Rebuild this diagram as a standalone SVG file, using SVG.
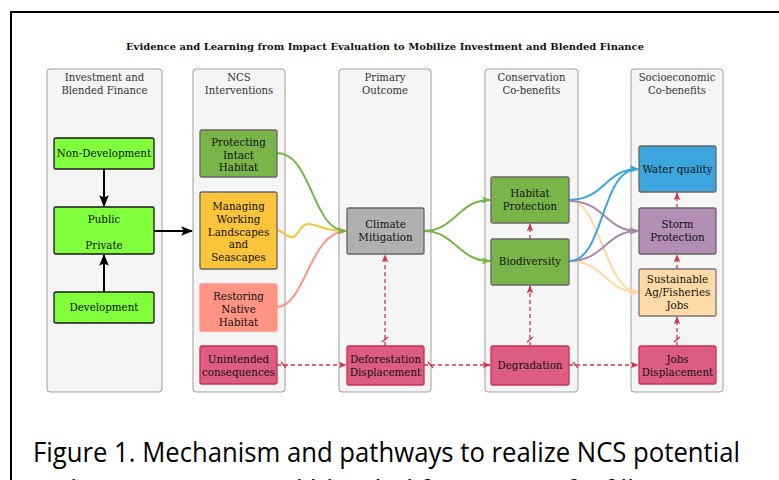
<svg xmlns="http://www.w3.org/2000/svg" width="779" height="480" viewBox="0 0 779 480">
<style>
.lane{fill:#f5f5f5;stroke:#a0a0a0;stroke-width:1}
.hd{font-family:"DejaVu Serif","Liberation Serif",serif;font-size:10.1px;fill:#333;text-anchor:middle}
.t{font-family:"DejaVu Serif","Liberation Serif",serif;font-size:10.3px;fill:#111;text-anchor:middle}
.n{stroke-width:1.3}
.blk{fill:none;stroke:#000;stroke-width:2}
.c{fill:none;stroke-width:2}
.red{fill:none;stroke:#d3334c;stroke-width:1.3;stroke-dasharray:4 3}
</style>
<defs>
<marker id="ab" markerUnits="userSpaceOnUse" markerWidth="12" markerHeight="12" viewBox="0 0 10 8" refX="9" refY="4" orient="auto"><path d="M0,0 L10,4 L0,8 L2,4 z" fill="#000"/></marker>
<marker id="ag" markerUnits="userSpaceOnUse" markerWidth="9" markerHeight="8" viewBox="0 0 10 8" refX="9" refY="4" orient="auto"><path d="M0,0 L10,4 L0,8 L2,4 z" fill="#79b548"/></marker>
<marker id="ay" markerUnits="userSpaceOnUse" markerWidth="9" markerHeight="8" viewBox="0 0 10 8" refX="9" refY="4" orient="auto"><path d="M0,0 L10,4 L0,8 L2,4 z" fill="#fbc43a"/></marker>
<marker id="as" markerUnits="userSpaceOnUse" markerWidth="9" markerHeight="8" viewBox="0 0 10 8" refX="9" refY="4" orient="auto"><path d="M0,0 L10,4 L0,8 L2,4 z" fill="#ff9485"/></marker>
<marker id="abl" markerUnits="userSpaceOnUse" markerWidth="9" markerHeight="8" viewBox="0 0 10 8" refX="9" refY="4" orient="auto"><path d="M0,0 L10,4 L0,8 L2,4 z" fill="#3ba6de"/></marker>
<marker id="ap" markerUnits="userSpaceOnUse" markerWidth="9" markerHeight="8" viewBox="0 0 10 8" refX="9" refY="4" orient="auto"><path d="M0,0 L10,4 L0,8 L2,4 z" fill="#a98aad"/></marker>
<marker id="ao" markerUnits="userSpaceOnUse" markerWidth="9" markerHeight="8" viewBox="0 0 10 8" refX="9" refY="4" orient="auto"><path d="M0,0 L10,4 L0,8 L2,4 z" fill="#ffd8a0"/></marker>
<marker id="ar" markerUnits="userSpaceOnUse" markerWidth="8" markerHeight="7" viewBox="0 0 10 8" refX="9" refY="4" orient="auto"><path d="M0,0 L10,4 L0,8 L2,4 z" fill="#d3334c"/></marker>
<marker id="sl" markerUnits="userSpaceOnUse" markerWidth="20" markerHeight="20" refX="0" refY="0" orient="auto" overflow="visible"><path d="M4,-3 L9,3" stroke="#d3334c" stroke-width="1.3" fill="none"/></marker>
</defs>
<rect x="0" y="0" width="779" height="480" fill="#fff"/>
<rect x="11" y="12" width="800" height="500" fill="#fff" stroke="#000" stroke-width="2"/>
<text x="385" y="50" font-family="'DejaVu Serif','Liberation Serif',serif" font-size="9.5" font-weight="bold" text-anchor="middle" fill="#111" textLength="518" lengthAdjust="spacingAndGlyphs">Evidence and Learning from Impact Evaluation to Mobilize Investment and Blended Finance</text>

<g id="lanes">
<rect class="lane" x="47" y="69" width="115" height="323" rx="3"/>
<rect class="lane" x="193" y="69" width="92" height="323" rx="3"/>
<rect class="lane" x="339" y="69" width="92" height="323" rx="3"/>
<rect class="lane" x="485" y="69" width="93" height="323" rx="3"/>
<rect class="lane" x="631" y="69" width="92" height="323" rx="3"/>
<text class="hd" x="104.5" y="81">Investment and</text><text class="hd" x="104.5" y="94">Blended Finance</text>
<text class="hd" x="239" y="81">NCS</text><text class="hd" x="239" y="94">Interventions</text>
<text class="hd" x="385" y="81">Primary</text><text class="hd" x="385" y="94">Outcome</text>
<text class="hd" x="531.5" y="81">Conservation</text><text class="hd" x="531.5" y="94">Co-benefits</text>
<text class="hd" x="677" y="81">Socioeconomic</text><text class="hd" x="677" y="94">Co-benefits</text>
</g>

<g id="connectors">
<path class="blk" d="M104,169 L104,206" marker-end="url(#ab)"/>
<path class="blk" d="M104,292 L104,255" marker-end="url(#ab)"/>
<path class="blk" d="M154,231 L192,231" marker-end="url(#ab)"/>
<path class="c" stroke="#fbc43a" d="M277,230 C284,231 287,239 293,237 C299,235 301,223 309,224 C318,225 326,231 346,231" marker-end="url(#ay)"/>
<path class="c" stroke="#ff9485" d="M277,307 C305,307 310,231 346,231" marker-end="url(#as)"/>
<path class="c" stroke="#79b548" d="M277,153 C312,153 312,231 346,231" marker-end="url(#ag)"/>
<path class="c" stroke="#79b548" d="M424,231 C455,231 458,200 490,200" marker-end="url(#ag)"/>
<path class="c" stroke="#79b548" d="M424,231 C455,231 458,261 490,261" marker-end="url(#ag)"/>
<path class="c" stroke="#ffd8a0" d="M569,200 C600,200 605,292 638,292" marker-end="url(#ao)"/>
<path class="c" stroke="#ffd8a0" d="M569,261 C605,261 605,292 638,292" marker-end="url(#ao)"/>
<path class="c" stroke="#a98aad" d="M569,201 C605,201 605,231 638,231" marker-end="url(#ap)"/>
<path class="c" stroke="#a98aad" d="M569,261 C605,261 605,231 638,231" marker-end="url(#ap)"/>
<path class="c" stroke="#3ba6de" d="M569,200 C605,200 605,169 638,169" marker-end="url(#abl)"/>
<path class="c" stroke="#3ba6de" d="M569,261 C605,261 600,169 638,169" marker-end="url(#abl)"/>
<path class="red" d="M277,365 L346,365" marker-start="url(#sl)" marker-end="url(#ar)"/>
<path class="red" d="M424,365 L490,365" marker-start="url(#sl)" marker-end="url(#ar)"/>
<path class="red" d="M569,365 L638,365" marker-start="url(#sl)" marker-end="url(#ar)"/>
<path class="red" d="M385,346 L385,255" marker-start="url(#sl)" marker-end="url(#ar)"/>
<path class="red" d="M530,346 L530,286" marker-start="url(#sl)" marker-end="url(#ar)"/>
<path class="red" d="M530,239 L530,224" marker-end="url(#ar)"/>
<path class="red" d="M677,346 L677,317" marker-start="url(#sl)" marker-end="url(#ar)"/>
<path class="red" d="M677,269 L677,255" marker-end="url(#ar)"/>
<path class="red" d="M677,208 L677,193" marker-end="url(#ar)"/>
</g>

<g id="non-development"><rect class="n" x="54" y="138" width="100" height="31" rx="2" fill="#80ff3a" stroke="#1a1a1a"/><text class="t" x="104" y="157">Non-Development</text></g>
<g id="public-private"><rect class="n" x="54" y="207" width="100" height="47" rx="2" fill="#80ff3a" stroke="#1a1a1a"/><text class="t" x="104" y="222.5">Public</text><text class="t" x="104" y="248.5">Private</text></g>
<g id="development"><rect class="n" x="54" y="292" width="100" height="31" rx="2" fill="#80ff3a" stroke="#1a1a1a"/><text class="t" x="104" y="311">Development</text></g>

<g id="protecting"><rect class="n" x="200" y="130" width="77" height="47" rx="2" fill="#79b548" stroke="#666"/><text class="t" x="238.5" y="145.5">Protecting</text><text class="t" x="238.5" y="158.5">Intact</text><text class="t" x="238.5" y="171">Habitat</text></g>
<g id="managing"><rect class="n" x="200" y="192" width="77" height="77" rx="2" fill="#fbc43a" stroke="#666"/><text class="t" x="238.5" y="209.5">Managing</text><text class="t" x="238.5" y="222.5">Working</text><text class="t" x="238.5" y="235.5">Landscapes</text><text class="t" x="238.5" y="248">and</text><text class="t" x="238.5" y="261">Seascapes</text></g>
<g id="restoring"><rect class="n" x="200" y="284" width="77" height="47" rx="2" fill="#ff9485" stroke="#ff9485"/><text class="t" x="238.5" y="300">Restoring</text><text class="t" x="238.5" y="313">Native</text><text class="t" x="238.5" y="325.5">Habitat</text></g>
<g id="unintended"><rect class="n" x="200" y="346" width="77" height="38" rx="2" fill="#dd5c82" stroke="#c8324f"/><text class="t" x="238.5" y="362.5">Unintended</text><text class="t" x="238.5" y="375.5">consequences</text></g>

<g id="climate"><rect class="n" x="347" y="208" width="77" height="46" rx="2" fill="#b0b0b0" stroke="#666"/><text class="t" x="385.5" y="227.5">Climate</text><text class="t" x="385.5" y="241">Mitigation</text></g>
<g id="deforestation"><rect class="n" x="347" y="346" width="77" height="39" rx="2" fill="#dd5c82" stroke="#c8324f"/><text class="t" x="385.5" y="363">Deforestation</text><text class="t" x="385.5" y="376">Displacement</text></g>

<g id="habitat-protection"><rect class="n" x="491" y="177" width="78" height="46" rx="2" fill="#79b548" stroke="#666"/><text class="t" x="530" y="197">Habitat</text><text class="t" x="530" y="210">Protection</text></g>
<g id="biodiversity"><rect class="n" x="491" y="239" width="78" height="46" rx="2" fill="#79b548" stroke="#666"/><text class="t" x="530" y="265">Biodiversity</text></g>
<g id="degradation"><rect class="n" x="491" y="346" width="78" height="39" rx="2" fill="#dd5c82" stroke="#c8324f"/><text class="t" x="530" y="369">Degradation</text></g>

<g id="water-quality"><rect class="n" x="639" y="146" width="77" height="46" rx="2" fill="#3ba6de" stroke="#666"/><text class="t" x="677.5" y="173">Water quality</text></g>
<g id="storm-protection"><rect class="n" x="639" y="208" width="77" height="46" rx="2" fill="#b28eb4" stroke="#666"/><text class="t" x="677.5" y="227.5">Storm</text><text class="t" x="677.5" y="241">Protection</text></g>
<g id="sustainable"><rect class="n" x="639" y="269" width="77" height="47" rx="2" fill="#ffdaa6" stroke="#777"/><text class="t" x="677.5" y="283">Sustainable</text><text class="t" x="677.5" y="296">Ag/Fisheries</text><text class="t" x="677.5" y="309">Jobs</text></g>
<g id="jobs-displacement"><rect class="n" x="639" y="346" width="77" height="38" rx="2" fill="#dd5c82" stroke="#c8324f"/><text class="t" x="677.5" y="362.5">Jobs</text><text class="t" x="677.5" y="375.5">Displacement</text></g>

<text x="33" y="462" font-family="'Open Sans','Noto Sans',sans-serif" font-size="27" fill="#000" textLength="707" lengthAdjust="spacingAndGlyphs">Figure 1. Mechanism and pathways to realize NCS potential</text>
<text x="33" y="500" font-family="'Open Sans','Noto Sans',sans-serif" font-size="27" fill="#000">with investments and blended finance (Mafia filler Tan</text>
</svg>
